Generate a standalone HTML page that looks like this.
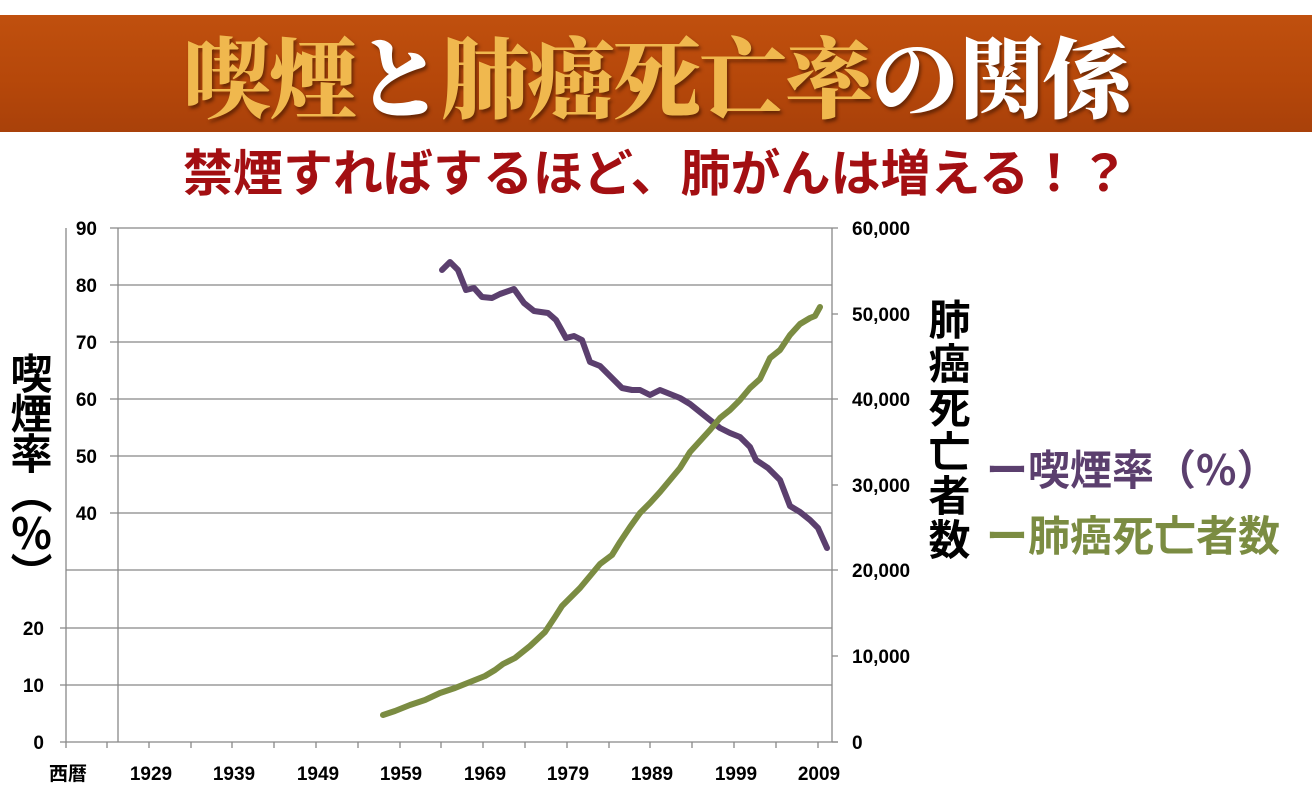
<!DOCTYPE html>
<html><head><meta charset="utf-8"><style>
body{margin:0;width:1312px;height:809px;background:#fff;overflow:hidden;position:relative;font-family:"Liberation Sans","Noto Sans CJK JP",sans-serif}
.banner{position:absolute;left:0;top:15px;width:1312px;height:117px;background:linear-gradient(#c0500e,#b5470a 60%,#a9410a);}
.title{position:absolute;left:0;top:14px;width:1312px;text-align:center;font-family:"Noto Serif CJK SC","Noto Serif CJK JP",serif;font-weight:900;font-size:88px;line-height:120px;letter-spacing:-2px;text-shadow:2px 3px 3px rgba(60,20,0,.6)}
.g{color:#f0b84e}.w{color:#fff}
.sub{position:absolute;left:0;top:140px;width:1312px;text-align:center;font-weight:bold;font-size:50px;line-height:60px;color:#a30f12;font-family:"Noto Sans CJK JP",sans-serif}
.vt{position:absolute;font-family:"Noto Sans CJK JP",sans-serif;font-weight:bold;color:#000;writing-mode:vertical-rl}
.leg{position:absolute;font-family:"Noto Sans CJK JP",sans-serif;font-weight:bold;font-size:42px;line-height:48px;white-space:nowrap}
</style></head><body>
<div class="banner"></div>
<div class="title"><span class="g">喫煙</span><span class="w">と</span><span class="g">肺癌死亡率</span><span class="w">の関係</span></div>
<div class="sub">禁煙すればするほど、肺がんは増える！？</div>
<svg width="1312" height="809" style="position:absolute;left:0;top:0" font-family="Liberation Sans, Noto Sans CJK JP, sans-serif" font-weight="bold" font-size="19">
<g stroke="#888" stroke-width="1.3">
<line x1="110" y1="228" x2="832" y2="228"/><line x1="110" y1="285" x2="832" y2="285"/><line x1="110" y1="342" x2="832" y2="342"/><line x1="110" y1="399" x2="832" y2="399"/><line x1="110" y1="456" x2="832" y2="456"/><line x1="110" y1="513" x2="832" y2="513"/><line x1="66" y1="570" x2="832" y2="570"/><line x1="60" y1="628" x2="832" y2="628"/><line x1="60" y1="685" x2="832" y2="685"/>
<line x1="66" y1="228" x2="66" y2="748"/><line x1="118" y1="228" x2="118" y2="742"/><line x1="832" y1="228" x2="832" y2="742"/>
<line x1="60" y1="742" x2="838" y2="742"/>
<path d="M107 742v6M149 742v6M191 742v6M232 742v6M274 742v6M316 742v6M358 742v6M400 742v6M441 742v6M483 742v6M525 742v6M567 742v6M609 742v6M650 742v6M692 742v6M734 742v6M776 742v6M818 742v6M832 228h6M832 314h6M832 399h6M832 485h6M832 570h6M832 656h6M832 742h6"/>
</g>
<g text-anchor="end">
<text x="97" y="235">90</text><text x="97" y="292">80</text><text x="97" y="349">70</text><text x="97" y="406">60</text><text x="97" y="463">50</text><text x="97" y="520">40</text><text x="44" y="635">20</text><text x="44" y="692">10</text><text x="44" y="749">0</text>
</g>
<g>
<text x="852" y="235">60,000</text><text x="852" y="321">50,000</text><text x="852" y="406">40,000</text><text x="852" y="492">30,000</text><text x="852" y="577">20,000</text><text x="852" y="663">10,000</text><text x="852" y="749">0</text>
</g>
<g text-anchor="middle">
<text x="68" y="780">西暦</text><text x="151" y="780">1929</text><text x="234" y="780">1939</text><text x="318" y="780">1949</text><text x="401" y="780">1959</text><text x="485" y="780">1969</text><text x="568" y="780">1979</text><text x="652" y="780">1989</text><text x="736" y="780">1999</text><text x="819" y="780">2009</text>
</g>
<polyline fill="none" stroke="#5b3f6e" stroke-width="6" stroke-linejoin="round" stroke-linecap="round" points="442,270 450,262 458,270 466,290 474,288 482,297 492,298 500,294 514,289 524,303 534,311 548,313 556,320 566,338 574,336 582,340 590,362 600,366 610,376 622,388 632,390 640,390 650,395 660,390 670,394 680,398 690,404 700,412 710,420 720,428 730,433 740,437 750,447 756,460 768,468 780,480 790,506 800,512 810,520 818,528 827,548"/>
<polyline fill="none" stroke="#7b8c42" stroke-width="6" stroke-linejoin="round" stroke-linecap="round" points="383,715 395,711 410,705 425,700 440,693 455,688 470,682 485,676 495,670 503,664 515,658 530,646 545,632 555,617 562,606 570,598 580,588 590,576 600,564 612,555 620,542 630,527 640,513 650,503 660,492 670,480 680,468 690,452 700,441 710,430 720,418 730,410 740,400 750,388 760,379 770,358 780,350 790,335 800,324 810,318 815,316 820,307"/>
</svg>
<div class="vt" style="left:8px;top:352px;font-size:42px;line-height:46px;letter-spacing:-2px">喫煙率（％）</div>
<div class="vt" style="left:925px;top:298px;font-size:42px;line-height:48px;letter-spacing:2px">肺癌死亡者数</div>
<div class="leg" style="left:986px;top:444px;color:#5b3f6e">ー喫煙率（%）</div>
<div class="leg" style="left:986px;top:510px;color:#7b8c42">ー肺癌死亡者数</div>
</body></html>
